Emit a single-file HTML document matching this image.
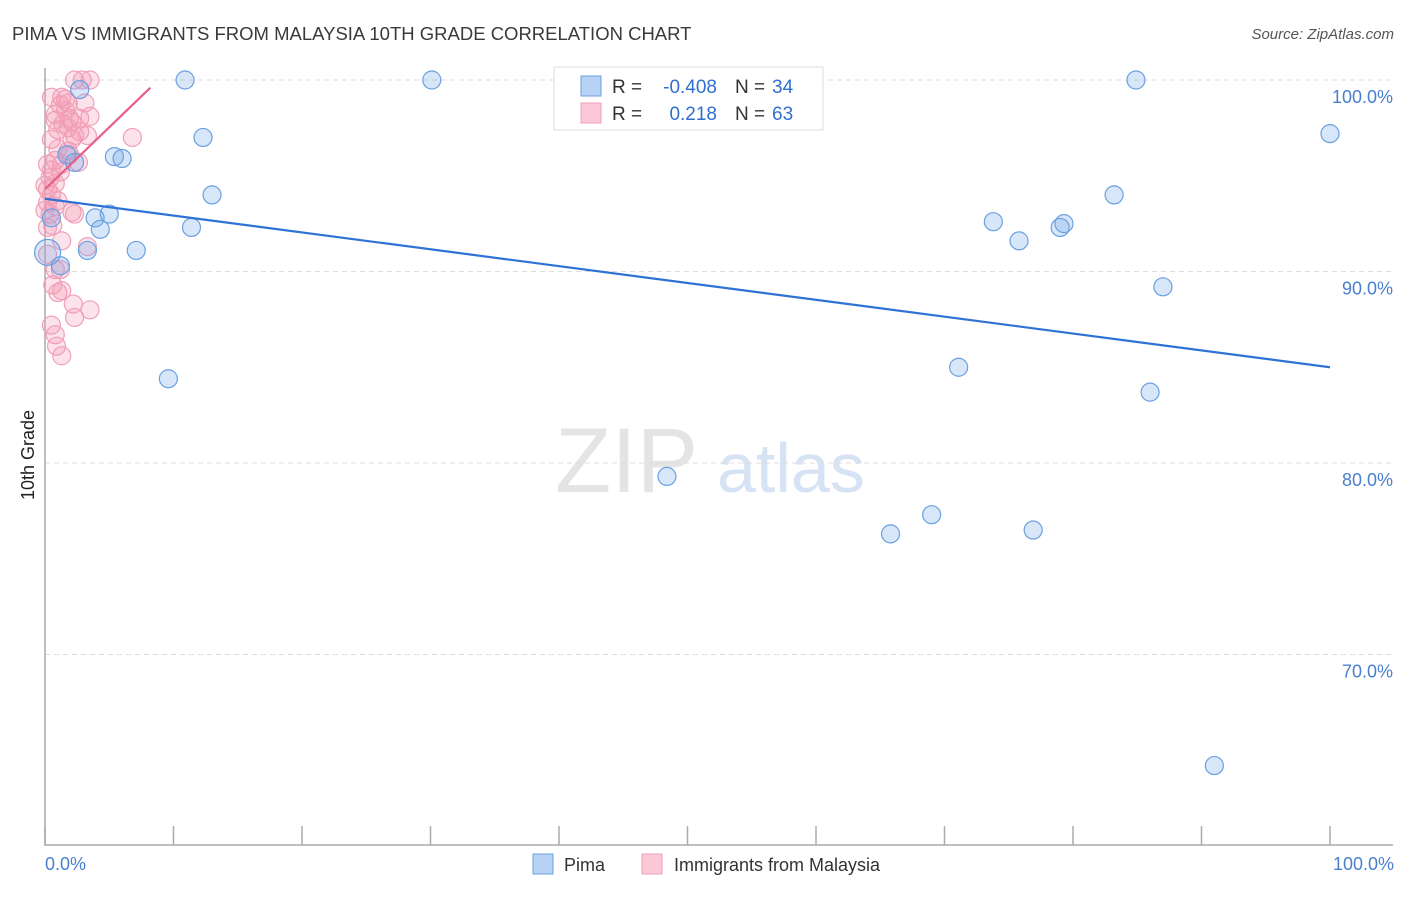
<!DOCTYPE html>
<html><head><meta charset="utf-8"><style>
body{margin:0;background:#fff;font-family:"Liberation Sans",sans-serif;}
svg text{font-family:"Liberation Sans",sans-serif;}
</style></head><body>
<svg id="c" width="1406" height="892" xmlns="http://www.w3.org/2000/svg">
<text x="12" y="40" font-size="18.5" fill="#3a3a3a">PIMA VS IMMIGRANTS FROM MALAYSIA 10TH GRADE CORRELATION CHART</text>
<text x="1394" y="39" font-size="15" fill="#555" text-anchor="end" font-style="italic">Source: ZipAtlas.com</text>
<text x="555" y="492" font-size="92" fill="#e4e4e4" font-family="Liberation Serif">ZIP</text>
<text x="717" y="492" font-size="70" fill="#d6e3f5">atlas</text>
<g id="grid"></g><g id="axes"></g><g id="pts"></g><g id="trend"></g>
<text transform="translate(34,455) rotate(-90)" font-size="18" fill="#222" text-anchor="middle">10th Grade</text>
<text x="45" y="870" font-size="18" fill="#4a7fd0">0.0%</text>
<text x="1394" y="870" font-size="18" fill="#4a7fd0" text-anchor="end">100.0%</text>
<g>
<rect x="554" y="67" width="269" height="63" fill="#fff" stroke="#ddd"/>
<rect x="581" y="76" width="20" height="20" fill="#b8d2f5" stroke="#6aa0e0"/>
<rect x="581" y="103" width="20" height="20" fill="#fac8d6" stroke="#f0a0b8"/>
<text x="612" y="93" font-size="19" fill="#333">R =</text>
<text x="717" y="93" font-size="19" fill="#2f6fd0" text-anchor="end">-0.408</text>
<text x="735" y="93" font-size="19" fill="#333">N =</text>
<text x="772" y="93" font-size="19" fill="#2f6fd0">34</text>
<text x="612" y="120" font-size="19" fill="#333">R =</text>
<text x="717" y="120" font-size="19" fill="#2f6fd0" text-anchor="end">0.218</text>
<text x="735" y="120" font-size="19" fill="#333">N =</text>
<text x="772" y="120" font-size="19" fill="#2f6fd0">63</text>
</g>
<g>
<rect x="533" y="854" width="20" height="20" fill="#b8d2f5" stroke="#6aa0e0"/>
<text x="564" y="871" font-size="18" fill="#333">Pima</text>
<rect x="642" y="854" width="20" height="20" fill="#fac8d6" stroke="#f0a0b8"/>
<text x="674" y="871" font-size="18" fill="#333">Immigrants from Malaysia</text>
</g>
</svg>
<script>
const yTicks=[100,90,80,70];
const yTickLabels=["100.0%","90.0%","80.0%","70.0%"];
const xTicks=[0,10,20,30,40,50,60,70,80,90,100];
const pimaX=[2.7,10.9,30.1,12.3,5.4,6.0,2.3,1.7,13.0,3.9,5.0,4.3,11.4,0.2,3.3,7.1,1.2,9.6,48.4,65.8,69.0,76.9,71.1,73.8,75.8,79.0,79.3,83.2,84.9,87.0,86.0,100,91.0,0.5];
const pimaY=[99.5,100,100,97.0,96.0,95.9,95.7,96.1,94.0,92.8,93.0,92.2,92.3,91.0,91.1,91.1,90.3,84.4,79.3,76.3,77.3,76.5,85.0,92.6,91.6,92.3,92.5,94.0,100,89.2,83.7,97.2,64.2,92.8];
const malX=[2.3,2.9,3.5,1.3,1.6,1.2,1.8,1.9,0.8,1.4,2.1,2.7,3.5,1.0,1.8,2.7,2.1,0.5,6.8,1.0,1.9,0.8,1.3,0.2,0.5,1.2,0.4,0,0.8,0.2,0.5,1.0,0.2,0.8,0,0.4,2.3,2.1,0.6,0.2,3.3,1.3,0.8,0.6,1.0,1.3,2.2,3.5,2.3,0.5,0.8,0.9,1.3,2.6,1.8,0.8,1.6,3.1,0.5,1.2,0.2,2.3,3.3];
const malY=[100,100,100,99.1,99.0,98.7,98.8,98.0,97.9,97.7,97.8,98.0,98.1,97.4,97.5,97.3,96.9,96.9,97.0,96.4,96.1,95.8,95.6,95.6,95.3,95.2,94.9,94.5,94.6,94.3,94.0,93.7,93.6,93.4,93.2,93.0,93.0,93.1,92.4,92.3,91.3,91.6,90.1,89.3,88.9,89.0,88.3,88.0,87.6,87.2,86.7,86.1,85.6,95.7,96.3,98.2,98.4,98.8,99.1,90.1,90.9,97.1,97.1];
const pimaTrendX=[0,100], pimaTrendY=[93.8,85.0];
const malTrendX=[0,8.2], malTrendY=[94.3,99.6];
const X=v=>45+v*12.85, Y=v=>80+(100-v)*19.15;
const NS="http://www.w3.org/2000/svg";
function mk(p,t,a){const e=document.createElementNS(NS,t);for(const k in a)e.setAttribute(k,a[k]);document.getElementById(p).appendChild(e);return e;}
yTicks.forEach((v,i)=>{
 const l=mk('grid','line',{x1:45,x2:1393,y1:Y(v),y2:Y(v),stroke:'#ddd','stroke-dasharray':'5,4'});
 
 
 const t=mk('grid','text',{x:1393,y:Y(v)+23,'font-size':18,fill:'#4a7fd0','text-anchor':'end'});
 t.textContent=yTickLabels[i];
 
 
});
const ax=mk('axes','path',{d:'M45,68V845H1393',fill:'none',stroke:'#aaa','stroke-width':1.5});


xTicks.forEach(v=>{
 const l=mk('axes','line',{x1:X(v),x2:X(v),y1:826,y2:845,stroke:'#aaa','stroke-width':1.5});
 
 
});
function pts(xs,ys,fill,stroke,name){
 xs.forEach((x,i)=>{
  const big=(name==='pima-point'&&i===13);
  const c=mk('pts','circle',{cx:X(x),cy:Y(ys[i]),r:big?13:9,fill:fill,stroke:stroke,'stroke-width':1.2});
  
  
 });
}
pts(malX,malY,'rgba(245,150,180,0.28)','#f0a0b8','malaysia-point');
pts(pimaX,pimaY,'rgba(110,165,235,0.28)','#6aa0e0','pima-point');
const t1=mk('trend','line',{x1:X(pimaTrendX[0]),y1:Y(pimaTrendY[0]),x2:X(pimaTrendX[1]),y2:Y(pimaTrendY[1]),stroke:'#2f72d6','stroke-width':2.2});


const t2=mk('trend','line',{x1:X(malTrendX[0]),y1:Y(malTrendY[0]),x2:X(malTrendX[1]),y2:Y(malTrendY[1]),stroke:'#e8608a','stroke-width':2.2});


</script>
</body></html>
